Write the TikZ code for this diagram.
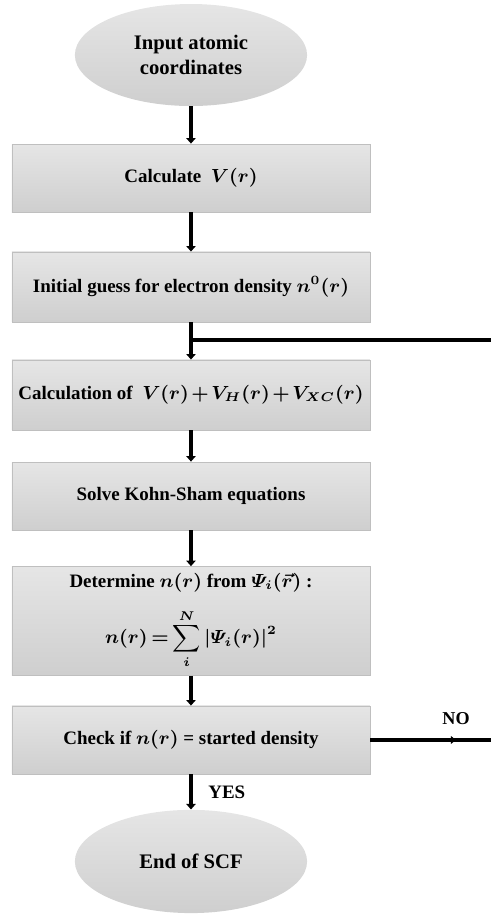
\documentclass[tikz,border=0pt]{standalone}
\usepackage{amsmath,amssymb}
\usepackage{fontspec}
\setmainfont{Liberation Serif}
\usetikzlibrary{arrows.meta,shapes.geometric}
\newcommand{\boxfont}{\fontsize{9}{11}\selectfont\bfseries\boldmath\medmuskip=2mu\relax\thickmuskip=3mu\relax}

\begin{document}
\begin{tikzpicture}[
    box/.style={draw=gray!50, rectangle, top color=gray!20, bottom color=gray!38, minimum width=5.967cm, inner xsep=1pt, align=center, font=\boxfont},
    term/.style={ellipse, top color=gray!20, bottom color=gray!38, minimum width=3.87cm, minimum height=1.7cm, inner sep=0pt, align=center, font=\fontsize{9.8}{11.5}\selectfont\bfseries},
    arr/.style={line width=1.8pt, -{Triangle[width=4.4pt,length=2.6pt]}},
    ln/.style={line width=1.5pt}]
  \useasboundingbox (0,0) rectangle (8.183,-15.25);

  \node[term] (start) at (3.183,-0.917) {Input atomic\\coordinates};
  \node[box, minimum height=1.133cm] (pot) at (3.183,-2.967) {Calculate \ $V(r)$};
  \node[box, minimum height=1.167cm] (guess) at (3.183,-4.783) {Initial guess for electron density $n^{0}(r)$};
  \node[box, minimum height=1.167cm] (veff) at (3.183,-6.583) {Calculation of \ $V(r)+V_H(r)+V_{XC}(r)$};
  \node[box, minimum height=1.133cm] (ks) at (3.183,-8.267) {Solve Kohn-Sham equations};
  \node[box, minimum height=1.8cm] (dens) at (3.183,-10.35) {Determine $n(r)$ from $\varPsi_i(\vec{r})$ :\\[7pt] $\displaystyle n(r)=\sum_i^N|\varPsi_i(r)|^2$};
  \node[box, minimum height=1.133cm] (check) at (3.183,-12.333) {Check if $n(r)$ = started density};
  \node[term, minimum height=1.72cm] (stop) at (3.183,-14.358) {End of SCF};

  \coordinate (join) at (3.183,-5.667);
  \coordinate (loop) at (8.183,-5.667);
  \coordinate (noend) at (8.183,-12.333);
  \coordinate (nomid) at (7.6,-12.333);

  \draw[arr] (start) -- (pot);
  \draw[arr] (pot) -- (guess);
  \draw[arr] (guess) -- (veff);
  \draw[ln] (loop) -- (join);
  \draw[arr] (veff) -- (ks);
  \draw[arr] (ks) -- (dens);
  \draw[arr] (dens) -- (check);
  \draw[arr] (check) -- (stop) node[midway, right=4pt, font=\fontsize{9}{11}\selectfont\bfseries] {YES};
  \draw[ln] (check.east) -- (noend);
  \draw[ln, -{Triangle[width=3.6pt,length=2.4pt]}] (check.east) -- (nomid);
  \node[font=\fontsize{8.6}{10}\selectfont\bfseries] (no) at (7.6,-11.97) {NO};
\end{tikzpicture}
\end{document}
